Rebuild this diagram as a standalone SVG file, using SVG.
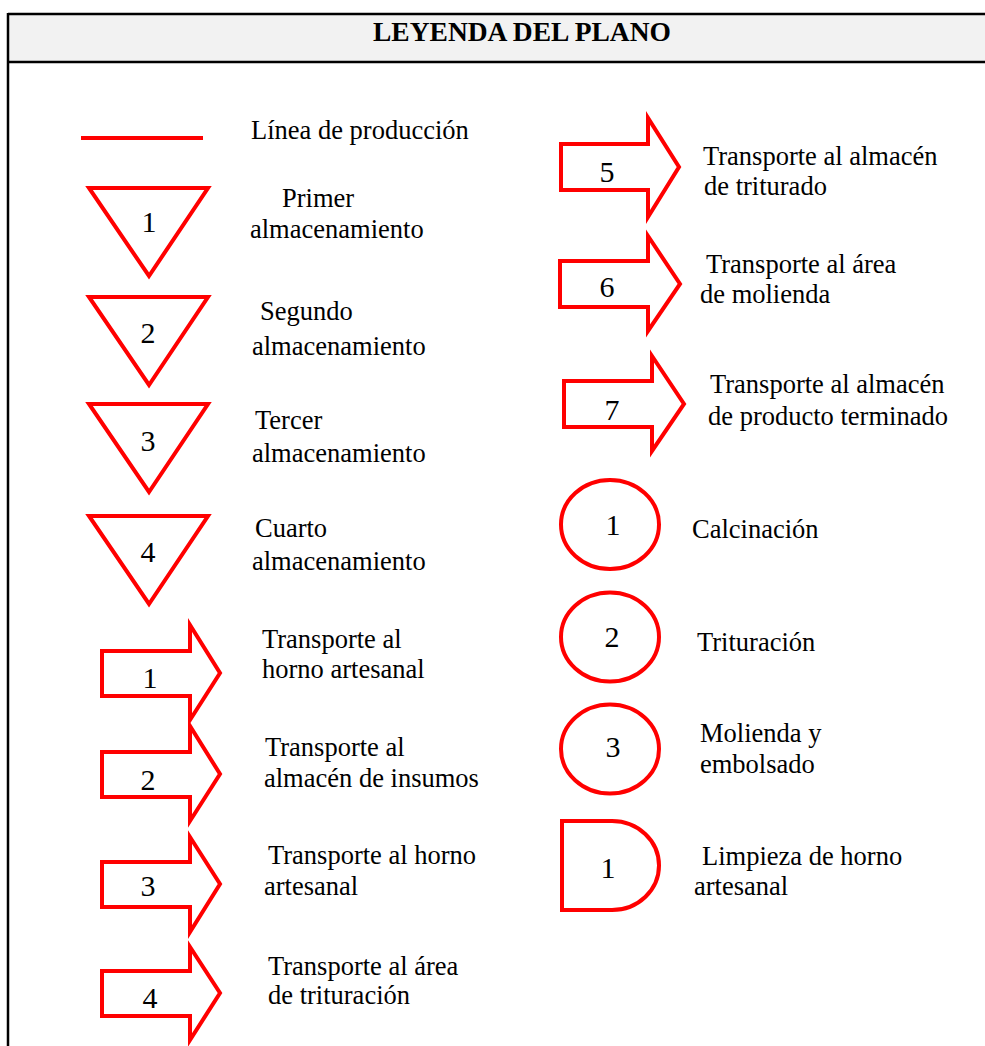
<svg xmlns="http://www.w3.org/2000/svg" width="985" height="1046" viewBox="0 0 985 1046">
<style>
.sym{fill:none;stroke:#ff0000;stroke-width:4;stroke-linejoin:miter}
.t{font-family:"Liberation Serif","Times New Roman",serif;font-size:26.5px;fill:#000}
.n{font-family:"Liberation Serif","Times New Roman",serif;font-size:30px;fill:#000;text-anchor:middle}
.title{font-family:"Liberation Serif","Times New Roman",serif;font-size:27.5px;font-weight:bold;fill:#000;text-anchor:middle}
.frame{stroke:#000;stroke-width:2.5;fill:none}
</style>
<rect width="985" height="1046" fill="#fff"/>
<g id="frame">
<rect x="8" y="14" width="990" height="48" fill="#f2f2f2" stroke="none"/>
<line class="frame" x1="8" y1="14" x2="985" y2="14"/>
<line class="frame" x1="8" y1="62" x2="985" y2="62"/>
<line class="frame" x1="8" y1="13" x2="8" y2="1046"/>
<text class="title" x="522" y="41">LEYENDA DEL PLANO</text>
</g>
<g id="linea">
<line x1="81" y1="138" x2="203" y2="138" stroke="#ff0000" stroke-width="4"/>
<text class="t" x="251" y="139">Línea de producción</text>
</g>
<g id="alm1">
<polygon class="sym" points="89,188 208,188 149,276"/>
<text class="n" x="149" y="232">1</text>
<text class="t" x="282" y="207">Primer</text>
<text class="t" x="250" y="238">almacenamiento</text>
</g>
<g id="alm2">
<polygon class="sym" points="89,297 208,297 149,385"/>
<text class="n" x="148" y="343">2</text>
<text class="t" x="260" y="320">Segundo</text>
<text class="t" x="252" y="355">almacenamiento</text>
</g>
<g id="alm3">
<polygon class="sym" points="89,404 208,404 149,492"/>
<text class="n" x="148" y="451">3</text>
<text class="t" x="255" y="429">Tercer</text>
<text class="t" x="252" y="462">almacenamiento</text>
</g>
<g id="alm4">
<polygon class="sym" points="89,516 208,516 149,604"/>
<text class="n" x="148" y="562">4</text>
<text class="t" x="255" y="537">Cuarto</text>
<text class="t" x="252" y="570">almacenamiento</text>
</g>
<g id="tr1">
<polygon class="sym" points="102,651 190,651 190,625 220,673 190,720 190,696 102,696"/>
<text class="n" x="150" y="688">1</text>
<text class="t" x="262" y="648">Transporte al</text>
<text class="t" x="262" y="678">horno artesanal</text>
</g>
<g id="tr2">
<polygon class="sym" points="102,752 190,752 190,726 220,774 190,821 190,797 102,797"/>
<text class="n" x="148" y="790">2</text>
<text class="t" x="265" y="756">Transporte al</text>
<text class="t" x="264" y="787">almacén de insumos</text>
</g>
<g id="tr3">
<polygon class="sym" points="102,862 190,862 190,837 220,884 190,932 190,907 102,907"/>
<text class="n" x="148" y="896">3</text>
<text class="t" x="268" y="864">Transporte al horno</text>
<text class="t" x="264" y="895">artesanal</text>
</g>
<g id="tr4">
<polygon class="sym" points="102,971 190,971 190,947 220,993 190,1040 190,1016 102,1016"/>
<text class="n" x="150" y="1008">4</text>
<text class="t" x="268" y="975">Transporte al área</text>
<text class="t" x="268" y="1004">de trituración</text>
</g>
<g id="tr5">
<polygon class="sym" points="561,144 648,144 648,118 679,167 648,217 648,190 561,190"/>
<text class="n" x="607" y="182">5</text>
<text class="t" x="703" y="165">Transporte al almacén</text>
<text class="t" x="704" y="195">de triturado</text>
</g>
<g id="tr6">
<polygon class="sym" points="560,261 648,261 648,236 680,284 648,331 648,307 560,307"/>
<text class="n" x="607" y="297">6</text>
<text class="t" x="706" y="273">Transporte al área</text>
<text class="t" x="700" y="303">de molienda</text>
</g>
<g id="tr7">
<polygon class="sym" points="564,381 652,381 652,356 684,404 652,451 652,427 564,427"/>
<text class="n" x="612" y="420">7</text>
<text class="t" x="710" y="393">Transporte al almacén</text>
<text class="t" x="708" y="425">de producto terminado</text>
</g>
<g id="op1">
<ellipse class="sym" cx="610" cy="524.5" rx="49" ry="44.5"/>
<text class="n" x="613" y="535">1</text>
<text class="t" x="692" y="538">Calcinación</text>
</g>
<g id="op2">
<ellipse class="sym" cx="610" cy="637" rx="49" ry="44.5"/>
<text class="n" x="612" y="647">2</text>
<text class="t" x="697" y="651">Trituración</text>
</g>
<g id="op3">
<ellipse class="sym" cx="610" cy="749" rx="49" ry="44.5"/>
<text class="n" x="613" y="757">3</text>
<text class="t" x="700" y="742">Molienda y</text>
<text class="t" x="700" y="773">embolsado</text>
</g>
<g id="demora1">
<path class="sym" d="M562,821 H612 A47,44.5 0 0 1 612,910 H562 Z"/>
<text class="n" x="608" y="878">1</text>
<text class="t" x="702" y="865">Limpieza de horno</text>
<text class="t" x="694" y="895">artesanal</text>
</g>
<g id="connectors"></g>
</svg>
